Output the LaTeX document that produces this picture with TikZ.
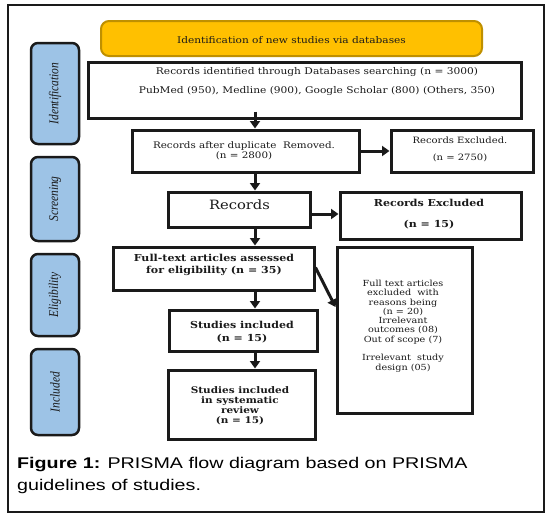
\documentclass[tikz,border=0pt]{standalone}
\usepackage{fontspec}
\setmainfont[FakeStretch=1.15]{DejaVu Serif}
\newfontfamily\capfont[FakeStretch=1.27]{Liberation Sans}
\newfontfamily\sidefont[FakeStretch=0.85]{Liberation Serif}
\usetikzlibrary{arrows.meta}
\definecolor{sideblue}{HTML}{9DC3E6}
\definecolor{hdrfill}{HTML}{FFC000}
\definecolor{hdrbd}{HTML}{BF9000}
\definecolor{ink}{HTML}{1A1A1A}
\tikzset{
  outer/.style={draw=ink, line width=2pt},
  hdr/.style={draw=hdrbd, fill=hdrfill, line width=2pt, rounded corners=8pt, inner sep=0pt},
  side/.style={draw=ink, fill=sideblue, line width=2.5pt, rounded corners=7pt, inner sep=0pt, minimum width=48pt},
  sidetxt/.style={rotate=90, inner sep=0pt, font=\sidefont\itshape\fontsize{13.5}{13.5}\selectfont, text=ink},
  flowbox/.style={draw=ink, line width=3pt, inner sep=0pt},
  txt/.style={inner sep=0pt, align=center, text=ink, font=\fontsize{8.4}{9.3}\selectfont},
  btxt/.style={inner sep=0pt, align=center, text=ink, font=\bfseries\fontsize{9.1}{10}\selectfont},
  captxt/.style={inner sep=0pt, anchor=base west, font=\capfont\fontsize{15.5}{22}\selectfont},
  arr/.style={draw=ink, line width=3pt, -{Triangle[length=7.5pt,width=10pt]}}
}
\begin{document}
\begin{tikzpicture}[x=1pt,y=-1pt]
\useasboundingbox (0,0) rectangle (552,522);
\fill[white] (0,0) rectangle (552,522);
\draw[outer] (7.5,5) rectangle (543.5,511.5);

% header
\node[hdr, minimum width=381pt, minimum height=35pt] (hdr) at (291.5,38.5) {};
\node[txt, font=\fontsize{9.2}{10}\selectfont] (hdrt) at (291.5,40) {Identification of new studies via databases};

% side stage boxes
\node[side, minimum height=101pt] (sid) at (55,93.5) {};
\node[sidetxt] (sidt) at (sid.center) {Identification};
\node[side, minimum height=84pt] (sscr) at (55,199) {};
\node[sidetxt] (sscrt) at (sscr.center) {Screening};
\node[side, minimum height=82pt] (sel) at (55,295) {};
\node[sidetxt] (selt) at (sel.center) {Eligibility};
\node[side, minimum height=86pt] (sinc) at (55,392) {};
\node[sidetxt] (sinct) at (sinc.center) {Included};

% flow boxes
\node[flowbox, minimum width=433pt, minimum height=56pt] (id) at (304.5,90) {};
\node[txt, font=\fontsize{9.25}{10}\selectfont] (idt1) at (317,72) {Records identified through Databases searching (n = 3000)};
\node[txt, font=\fontsize{9.25}{10}\selectfont] (idt2) at (317,91) {PubMed (950), Medline (900), Google Scholar (800) (Others, 350)};

\node[flowbox, minimum width=227pt, minimum height=42pt] (dup) at (245.5,151) {};
\node[txt, font=\fontsize{9}{9.5}\selectfont] (dupt) at (244,151) {Records after duplicate\ \ Removed.\\(n = 2800)};

\node[flowbox, minimum width=142pt, minimum height=42pt] (ex1) at (462,151) {};
\node[txt, font=\fontsize{8.7}{9.5}\selectfont] (ex1a) at (460,140) {Records Excluded.};
\node[txt, font=\fontsize{8.7}{9.5}\selectfont] (ex1b) at (460,158) {(n = 2750)};

\node[flowbox, minimum width=142pt, minimum height=35pt] (rec) at (239,209.5) {};
\node[txt, font=\fontsize{12.8}{14}\selectfont] (rect) at (239.5,205) {Records};

\node[flowbox, minimum width=181pt, minimum height=47pt] (ex2) at (430.5,215.5) {};
\node[btxt, font=\bfseries\fontsize{9.6}{10}\selectfont] (ex2a) at (429,203) {Records Excluded};
\node[btxt, font=\bfseries\fontsize{9.6}{10}\selectfont] (ex2b) at (429,225) {(n = 15)};

\node[flowbox, minimum width=201pt, minimum height=43pt] (ft) at (213.5,268.5) {};
\node[btxt, font=\bfseries\fontsize{9.6}{12}\selectfont] (ftt) at (214,265) {Full-text articles assessed\\for eligibility (n = 35)};

\node[flowbox, minimum width=148pt, minimum height=41pt] (si) at (243,330.5) {};
\node[btxt, font=\bfseries\fontsize{9.6}{12.5}\selectfont] (sit) at (242,332) {Studies included\\(n = 15)};

\node[flowbox, minimum width=135pt, minimum height=166pt] (ex3) at (404.5,330) {};
\node[txt] (ex3t) at (403,326) {Full text articles\\excluded\ \ with\\reasons being\\(n = 20)\\Irrelevant\\outcomes (08)\\Out of scope (7)\\[9.3pt]Irrelevant\ \ study\\design (05)};

\node[flowbox, minimum width=147pt, minimum height=69pt] (sr) at (241.5,404.5) {};
\node[btxt] (srt) at (240,405.5) {Studies included\\in systematic\\review\\(n = 15)};

% connectors
\coordinate (sp) at (255,0);
\coordinate (a0) at ([yshift=8pt]id.south -| sp);
\draw[arr] (a0) -- (dup.north -| sp);
\draw[arr] (dup.east) -- (dup.east -| ex1.west);
\draw[arr] (dup.south -| sp) -- (rec.north -| sp);
\coordinate (r2) at ([yshift=-4.5pt]rec.east);
\draw[arr] (r2) -- (r2 -| ex2.west);
\draw[arr] (rec.south -| sp) -- (ft.north -| sp);
\coordinate (d3) at ([yshift=23pt]ex3.west);
\draw[arr] ([yshift=1pt]ft.east) -- (d3);
\draw[arr] (ft.south -| sp) -- (si.north -| sp);
\draw[arr] (si.south -| sp) -- (sr.north -| sp);

% caption
\node[captxt] (cap1) at (17,468) {\textbf{Figure 1:} PRISMA flow diagram based on PRISMA};
\node[captxt] (cap2) at (17,490) {guidelines of studies.};
\end{tikzpicture}
\end{document}
